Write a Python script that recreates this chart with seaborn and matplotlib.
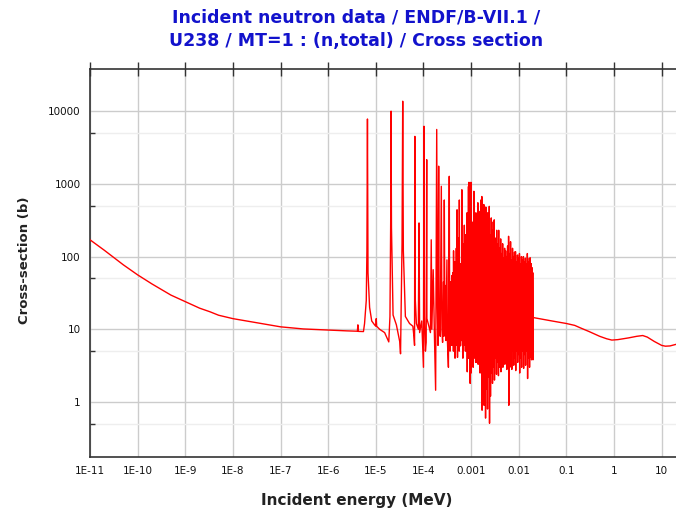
import numpy as np
import pandas as pd
import matplotlib
matplotlib.use("Agg")
import matplotlib.pyplot as plt
import matplotlib.ticker as mticker
import seaborn as sns

# ---------------- data (energies in MeV / eV, cross sections in barns) ----------------
# thermal / 1/v region (MeV)
low_E = [1e-11, 2e-11, 3.1e-11, 5e-11, 1e-10, 2e-10, 3.2e-10, 5e-10, 1e-9, 2e-9, 3.3e-9,
         5e-9, 1e-8, 3.2e-8, 1e-7, 3e-7, 1e-6, 2.5e-6, 4.1e-6, 4.2e-6, 4.3e-6, 5.5e-6]
low_xs = [170, 122, 98, 77, 56, 42, 35, 29.5, 24, 19.5, 17.4,
          15.6, 14.0, 12.3, 10.8, 10.1, 9.75, 9.5, 9.4, 11.5, 9.35, 9.3]

# first resolved resonances (eV)
res_E_eV = [5.8, 6.3, 6.5, 6.6, 6.67, 6.74, 6.85, 7.4, 8.2, 9.4, 10.0, 10.2, 10.4, 12.0,
            15.3, 18.7, 19.8, 20.5, 20.87, 21.3, 23.0, 27.0, 31.7, 33.0, 35.5, 36.68,
            37.8, 41.7, 51.0, 60.0, 63.0, 65.0, 66.0, 67.5, 71.0, 78.0, 80.7, 83.0,
            92.0, 96.0, 100.0, 102.5, 105.0, 110.0, 114.0, 116.9, 118.0]
res_xs = [12.0, 25.0, 120.0, 1100.0, 7800.0, 900.0, 60.0, 20.0, 13.0, 11.5, 11.0, 14.0,
          11.0, 10.0, 9.0, 6.7, 15.0, 300.0, 10000.0, 250.0, 15.7, 11.5, 6.8, 4.6,
          150.0, 13700.0, 120.0, 15.0, 12.0, 11.0, 8.0, 6.0, 4500.0, 25.0, 12.0, 10.0,
          290.0, 9.0, 13.0, 6.0, 3.0, 6200.0, 15.0, 5.0, 6.6, 2150.0, 14.0]

# resonance forest, part A (eV)
forA_E_eV = [130, 140, 145.6, 150, 160, 170, 180, 189.7, 196, 202, 208.5, 214, 225, 237,
             244, 252, 264, 268, 273.7, 282, 291, 296, 311, 318, 334, 347.8, 355, 362,
             370, 374, 377, 386, 392, 395, 398, 404, 411, 418, 423, 425, 428, 434, 440,
             442, 445, 452, 458, 460, 463, 470, 478, 484, 489, 495, 500, 503, 507, 518,
             522, 528, 535, 541, 549, 556, 561, 563, 566, 575, 580, 584, 590, 598, 605,
             612, 620, 630, 640, 648, 655, 663, 669, 672, 675, 683, 693, 700, 709, 716,
             721, 728, 737, 745, 752, 758, 766, 774, 782, 790, 798, 805, 812, 816, 821,
             830, 838, 845, 851, 858, 866, 872, 880, 888, 895]
forA_xs = [11, 9, 170, 10, 66, 8, 1.45, 5600, 20, 6, 1750, 12, 8, 925,
           10, 6.6, 45, 8, 600, 9, 40, 7, 90, 7, 3.0, 1270, 12, 5,
           45, 8, 35, 9, 30, 6, 55, 7, 60, 8, 40, 5, 120, 6, 25,
           7, 30, 8, 45, 4, 85, 9, 40, 7, 130, 8, 35, 6, 440, 4.1,
           70, 9, 180, 7, 50, 10, 30, 5, 600, 8, 40, 6, 30, 5.9, 80,
           8, 45, 7, 830, 9, 35, 6, 50, 4, 90, 10, 150, 7, 60, 9,
           270, 6, 110, 8, 70, 5, 200, 9, 45, 8, 140, 6, 50, 5, 400,
           2.6, 75, 8, 160, 5, 60, 9, 920, 4, 100]

# resonance forest, part B (eV) up to the end of the resolved range (20 keV)
forB_E_eV = [900, 911, 922, 934, 944, 956, 967, 980, 991, 1003,
             1015, 1028, 1040, 1052, 1065, 1078, 1091, 1104, 1118, 1131,
             1144, 1158, 1172, 1187, 1201, 1215, 1230, 1245, 1260, 1275,
             1290, 1306, 1321, 1338, 1353, 1370, 1386, 1403, 1420, 1437,
             1454, 1472, 1490, 1508, 1526, 1544, 1563, 1582, 1601, 1620,
             1640, 1659, 1679, 1700, 1720, 1741, 1762, 1783, 1805, 1826,
             1848, 1871, 1893, 1916, 1939, 1963, 1986, 2010, 2035, 2059,
             2084, 2109, 2135, 2160, 2186, 2213, 2240, 2267, 2294, 2322,
             2350, 2378, 2407, 2436, 2465, 2495, 2525, 2555, 2586, 2617,
             2649, 2681, 2713, 2746, 2779, 2812, 2846, 2880, 2915, 2950,
             2986, 3022, 3058, 3095, 3132, 3170, 3208, 3247, 3286, 3326,
             3366, 3406, 3447, 3489, 3531, 3573, 3616, 3660, 3704, 3749,
             3794, 3839, 3886, 3932, 3980, 4028, 4076, 4125, 4175, 4225,
             4276, 4327, 4379, 4432, 4485, 4539, 4594, 4649, 4705, 4761,
             4819, 4877, 4935, 4995, 5055, 5115, 5177, 5239, 5302, 5366,
             5430, 5495, 5561, 5628, 5696, 5764, 5833, 5903, 5974, 6046,
             6119, 6192, 6267, 6342, 6418, 6495, 6573, 6652, 6732, 6813,
             6894, 6977, 7061, 7146, 7232, 7318, 7406, 7495, 7585, 7676,
             7768, 7862, 7956, 8052, 8148, 8246, 8345, 8445, 8547, 8649,
             8753, 8858, 8965, 9072, 9181, 9291, 9403, 9516, 9630, 9745,
             9862, 9981, 10100, 10222, 10344, 10469, 10594, 10722, 10850, 10981,
             11112, 11246, 11381, 11517, 11656, 11796, 11937, 12080, 12225, 12372,
             12521, 12671, 12823, 12977, 13133, 13290, 13450, 13611, 13775, 13940,
             14107, 14277, 14448, 14621, 14797, 14974, 15154, 15336, 15520, 15706,
             15895, 16085, 16278, 16474, 16671, 16871, 17074, 17279, 17486, 17696,
             17908, 18123, 18341, 18561, 18783, 19009, 19237, 19468, 19701, 19938]
forB_xs = [1050, 4, 120, 9, 60, 1.8, 300, 6, 1050, 2.5,
           80, 7, 300, 5, 45, 8, 140, 3, 90, 6,
           790, 4, 60, 9, 250, 6, 40, 3.5, 400, 7,
           70, 3.5, 180, 8, 50, 5, 550, 3.3, 90, 6,
           420, 7, 60, 3.3, 260, 2.5, 45, 9, 600, 4,
           110, 6, 670, 0.77, 55, 8, 380, 2, 70, 5,
           520, 0.9, 90, 6, 300, 4, 45, 0.6, 480, 7,
           80, 1.5, 250, 8, 40, 0.8, 400, 5, 120, 2.2,
           60, 6, 490, 0.51, 90, 4, 200, 1.2, 50, 7,
           340, 2.5, 70, 5, 230, 1.8, 45, 8, 300, 3,
           60, 6, 320, 2, 90, 5, 40, 7, 180, 4,
           70, 2.4, 230, 8, 50, 3.5, 150, 6, 80, 2.3,
           230, 7, 40, 4.5, 130, 3, 60, 8, 175, 2.6,
           55, 6, 110, 5, 35, 9, 150, 3, 70, 7,
           95, 4, 45, 8, 130, 3.3, 60, 6, 120, 5,
           40, 6, 100, 2.8, 70, 8, 140, 4, 50, 6,
           190, 0.9, 60, 7, 110, 3, 45, 8, 160, 4.5,
           50, 6, 90, 2.8, 65, 9, 130, 5, 40, 7,
           100, 3.2, 55, 8, 115, 4, 70, 6, 117, 2.7,
           45, 7, 85, 5, 60, 9, 105, 3.5, 50, 6,
           95, 4.5, 40, 8, 110, 2.5, 65, 6, 80, 4,
           55, 7, 100, 3, 45, 9, 90, 5, 60, 6,
           100, 2.9, 50, 8, 85, 4.5, 40, 6, 95, 3.2,
           60, 7, 80, 5, 45, 9, 110, 2.1, 55, 6,
           85, 4, 40, 8, 95, 3, 60, 7, 96, 4.2,
           50, 6, 80, 3.8, 45, 8, 70, 5, 60, 3.8]

# unresolved / fast region (MeV)
fast_E = [0.02, 0.03, 0.05, 0.1, 0.15, 0.2, 0.3, 0.5, 0.7, 0.9, 1.2, 2.0, 3.0, 4.0,
          5.0, 7.0, 10.0, 12.0, 15.0, 20.0]
fast_xs = [14.5, 13.8, 13.0, 12.0, 11.3, 10.4, 9.3, 8.0, 7.4, 7.1, 7.2, 7.6, 8.0, 8.2,
           7.8, 6.8, 6.0, 5.85, 5.9, 6.2]

x_ticks = [1e-11, 1e-10, 1e-9, 1e-8, 1e-7, 1e-6, 1e-5, 1e-4, 1e-3, 1e-2, 1e-1, 1, 10]
x_labels = ["1E-11", "1E-10", "1E-9", "1E-8", "1E-7", "1E-6", "1E-5", "1E-4",
            "0.001", "0.01", "0.1", "1", "10"]
y_ticks = [1, 10, 100, 1000, 10000]
y_labels = ["1", "10", "100", "1000", "10000"]
y_minor = [0.5, 5, 50, 500, 5000]

title_1 = "Incident neutron data / ENDF/B-VII.1 /"
title_2 = "U238 / MT=1 : (n,total) / Cross section"
x_title = "Incident energy (MeV)"
y_title = "Cross-section (b)"

# ---------------- assemble ----------------
E = (list(low_E) + [e * 1e-6 for e in res_E_eV] + [e * 1e-6 for e in forA_E_eV]
     + [e * 1e-6 for e in forB_E_eV] + list(fast_E))
xs = list(low_xs) + list(res_xs) + list(forA_xs) + list(forB_xs) + list(fast_xs)
df = pd.DataFrame({"E": E, "xs": xs})

sns.set_style("white")
plt.rcParams["font.family"] = ["DejaVu Sans"]

W, H = 676, 512
fig = plt.figure(figsize=(W / 100, H / 100), dpi=100)
ax = fig.add_axes([90 / W, 1 - 457 / H, (676 - 90) / W, (457 - 69) / H])
ax.set_xscale("log")
ax.set_yscale("log")

sns.lineplot(data=df, x="E", y="xs", sort=False, estimator=None, color="#ff0000",
             linewidth=1.0, ax=ax, zorder=3)

ax.set_xlim(1e-11, 20)
ax.set_ylim(0.175, 38000)

ax.xaxis.set_major_locator(mticker.FixedLocator(x_ticks))
ax.xaxis.set_major_formatter(mticker.FixedFormatter(x_labels))
ax.xaxis.set_minor_locator(mticker.NullLocator())
ax.yaxis.set_major_locator(mticker.FixedLocator(y_ticks))
ax.yaxis.set_major_formatter(mticker.FixedFormatter(y_labels))
ax.yaxis.set_minor_locator(mticker.FixedLocator(y_minor))
ax.yaxis.set_minor_formatter(mticker.NullFormatter())

ax.grid(True, which="major", color="#cccccc", linewidth=1.0, zorder=0)
ax.grid(True, which="minor", axis="y", color="#eeeeee", linewidth=1.0, zorder=0)
ax.set_axisbelow(True)

for side in ["left", "bottom", "top"]:
    ax.spines[side].set_visible(True)
    ax.spines[side].set_color("#333333")
    ax.spines[side].set_linewidth(1.2)
ax.spines["right"].set_visible(False)

ax.tick_params(axis="both", which="major", direction="inout", length=9.5, width=1,
               color="#333333", labelsize=7.5, labelcolor="#111111", pad=2)
ax.tick_params(axis="x", which="major", top=True, labeltop=False)
ax.tick_params(axis="y", which="minor", direction="in", length=3.6, width=1,
               color="#333333", left=True, right=False)
ax.tick_params(axis="y", which="major", right=False)

ax.set_xlabel("")
ax.set_ylabel("")

fig.text(356 / W, 1 - 18 / H, title_1, ha="center", va="center", fontsize=12.5,
         fontweight="bold", color="#1212cc")
fig.text(356 / W, 1 - 41 / H, title_2, ha="center", va="center", fontsize=12.5,
         fontweight="bold", color="#1212cc")
fig.text(357 / W, 1 - 500 / H, x_title, ha="center", va="center", fontsize=11,
         fontweight="bold", color="#222222")
fig.text(25 / W, 1 - 260 / H, y_title, ha="center", va="center", fontsize=9.5,
         fontweight="bold", color="#222222", rotation=90)

fig.savefig("out.png", dpi=100, facecolor="white")
